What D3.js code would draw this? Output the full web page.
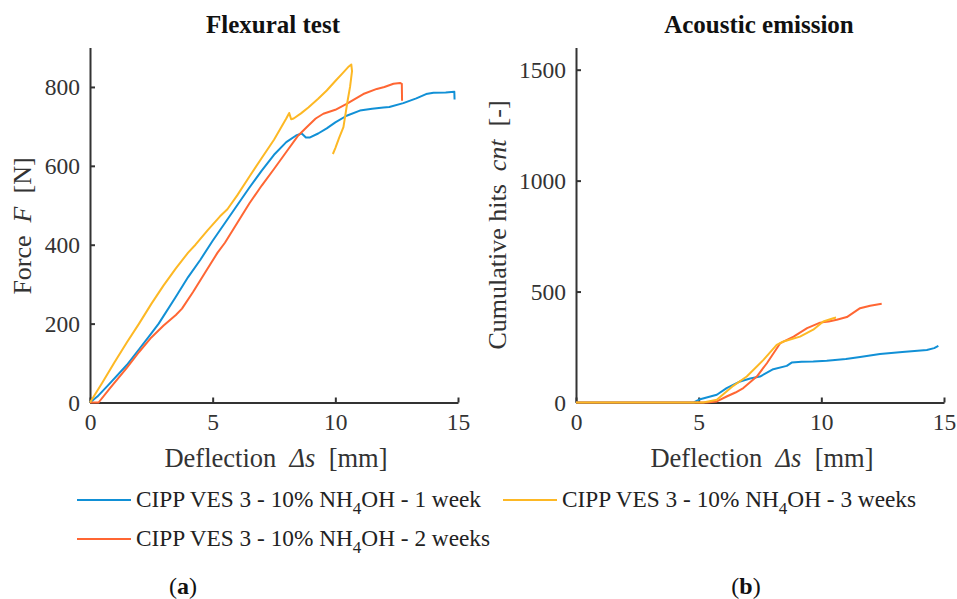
<!DOCTYPE html>
<html><head><meta charset="utf-8">
<script src="https://cdn.jsdelivr.net/npm/d3@7"></script>
<style>
body{margin:0;background:#fff;}
svg text{font-family:"Liberation Serif","Times New Roman","DejaVu Serif",serif;}
</style></head>
<body><svg id="c" width="957" height="599"></svg>
<script>
// ---- data ----
const seriesNames = ["CIPP VES 3 - 10% NH4OH - 1 week","CIPP VES 3 - 10% NH4OH - 2 weeks","CIPP VES 3 - 10% NH4OH - 3 weeks"];
const seriesColors = ["#1190d6","#ff6633","#fdb824"];
const xTicks = [0,5,10,15];
const forceTicks = [0,200,400,600,800];
const hitsTicks = [0,500,1000,1500];

// Flexural test: [deflection mm, force N]
const force1Week = [[0,0],[0.3,15],[0.8,48],[1.5,95],[2,135],[2.5,175],[2.8,200],[3.5,268],[4,318],[4.5,362],[5,410],[5.5,455],[6,500],[6.5,545],[7,588],[7.5,628],[8,660],[8.4,677],[8.63,682],[8.8,672],[8.97,672],[9.3,682],[9.65,695],[10,710],[10.46,727],[11,740],[11.5,745],[11.96,748],[12.2,749],[12.77,759],[13.3,771],[13.7,782],[14,785],[14.5,786],[14.85,788],[14.86,768]];
const force2Weeks = [[0,0],[0.35,0],[0.8,35],[1.5,88],[2,128],[2.5,165],[3,195],[3.5,222],[3.75,238],[4.2,280],[4.7,330],[5.2,380],[5.5,405],[6,455],[6.5,505],[7,550],[7.5,592],[8,635],[8.49,677],[8.83,698],[9.2,720],[9.51,732],[10,742],[10.46,757],[11,777],[11.14,782],[11.69,795],[12,800],[12.37,808],[12.64,810],[12.71,808],[12.72,765]];
const force3Weeks = [[0,0],[0.5,50],[1,102],[1.5,152],[2,200],[2.5,250],[3,297],[3.5,340],[4,380],[4.3,400],[4.8,437],[5.3,472],[5.6,490],[6,525],[6.5,573],[7,620],[7.5,666],[8,720],[8.12,734],[8.2,718],[8.3,720],[8.6,733],[8.9,748],[9.3,770],[9.65,791],[10,815],[10.3,835],[10.55,852],[10.65,857],[10.68,840],[10.6,800],[10.5,765],[10.33,698],[10.15,670],[10,645],[9.9,630]];

// Acoustic emission: [deflection mm, cumulative hits]
const hits1Week = [[0,0],[4.8,0],[5.06,15],[5.4,25],[5.74,35],[6.14,65],[6.69,95],[7.1,108],[7.5,117],[8.04,150],[8.59,165],[8.79,180],[9.2,184],[9.67,185],[10.22,188],[11,196],[11.58,205],[12.39,219],[13.3,228],[14.3,237],[14.6,245],[14.77,255]];
const hits2Weeks = [[0,0],[5.33,0],[5.74,5],[6.14,27],[6.5,45],[6.82,65],[7.37,117],[7.78,177],[8.33,268],[8.87,297],[9.42,335],[9.95,360],[10.3,365],[10.63,373],[11.04,385],[11.58,425],[11.99,436],[12.46,445]];
const hits3Weeks = [[0,0],[5.19,0],[5.74,12],[6.41,75],[6.96,117],[7.64,192],[8.18,260],[8.46,275],[9.13,297],[9.67,328],[10.08,365],[10.49,380],[10.6,383]];

const FONT = "Liberation Serif, Times New Roman, DejaVu Serif, serif";
const svg = d3.select("#c");
const axisColor = "#333";

function panel(opts){
  const g = svg.append("g");
  const x = d3.scaleLinear().domain([0,15]).range([opts.x0, opts.x0+368]);
  const y = d3.scaleLinear().domain([0,opts.ymax]).range([402.5, 47.5]);
  const gx = g.append("g").attr("transform",`translate(0,${y(0)})`)
    .call(d3.axisBottom(x).tickValues(xTicks).tickFormat(d3.format("d")).tickSizeInner(-5).tickSizeOuter(0).tickPadding(11));
  const gy = g.append("g").attr("transform",`translate(${x(0)},0)`)
    .call(d3.axisLeft(y).tickValues(opts.yTicks).tickFormat(d3.format("d")).tickSizeInner(-5).tickSizeOuter(0).tickPadding(10));
  [gx,gy].forEach(a=>{
    a.attr("font-family",FONT).attr("font-size",23.5);
    a.select(".domain").attr("stroke",axisColor).attr("stroke-width",2);
    a.selectAll(".tick line").attr("stroke",axisColor).attr("stroke-width",2);
    a.selectAll(".tick text").attr("fill","#333");
  });
  gx.selectAll(".tick text").attr("dy","0.72em");
  const line = d3.line().x(d=>x(d[0])).y(d=>y(d[1]));
  opts.data.forEach((d,i)=>{
    g.append("path").datum(d).attr("d",line).attr("fill","none")
      .attr("stroke",seriesColors[i]).attr("stroke-width",2).attr("stroke-linejoin","round");
  });
  // title
  g.append("text").attr("x",opts.titleX).attr("y",33).attr("text-anchor","middle")
    .attr("font-family",FONT).attr("font-weight","bold").attr("font-size",25).attr("fill","#111").text(opts.title);
  // x label
  const xl = g.append("text").attr("x",x(7.5)+2).attr("y",467).attr("text-anchor","middle")
    .attr("font-family",FONT).attr("font-size",26.5).attr("fill","#333").attr("xml:space","preserve");
  xl.append("tspan").text("Deflection  ");
  xl.append("tspan").attr("font-style","italic").text("Δs");
  xl.append("tspan").text("  [mm]");
  // y label
  const yl = g.append("text").attr("transform",`translate(${opts.ylx},${opts.yly}) rotate(-90)`)
    .attr("text-anchor","middle").attr("font-family",FONT).attr("font-size",26).attr("fill","#333").attr("xml:space","preserve");
  yl.append("tspan").text(opts.ylab[0]);
  yl.append("tspan").attr("font-style","italic").text(opts.ylab[1]);
  yl.append("tspan").text(opts.ylab[2]);
}

panel({x0:90, ymax:900, yTicks:forceTicks, data:[force1Week,force2Weeks,force3Weeks],
  title:"Flexural test", titleX:273, ylx:31, yly:226, ylab:["Force  ","F","  [N]"]});
panel({x0:576, ymax:1600, yTicks:hitsTicks, data:[hits1Week,hits2Weeks,hits3Weeks],
  title:"Acoustic emission", titleX:759, ylx:506, yly:225, ylab:["Cumulative hits  ","cnt","  [-]"]});

// legend
const legendPos = [[77,500],[77,539],[503,500]];
seriesNames.forEach((name,i)=>{
  const [lx,ly] = legendPos[i];
  svg.append("line").attr("x1",lx).attr("x2",lx+54).attr("y1",ly).attr("y2",ly)
    .attr("stroke",seriesColors[i]).attr("stroke-width",2);
  const t = svg.append("text").attr("x",lx+59).attr("y",ly+7).attr("font-family",FONT).attr("font-size",23.3).attr("fill","#222");
  const parts = name.split("NH4OH");
  t.append("tspan").text(parts[0]+"NH");
  t.append("tspan").attr("dy",7).attr("font-size",17).text("4");
  t.append("tspan").attr("dy",-7).text("OH"+parts[1]);
});

// captions
[["a",183],["b",746]].forEach(([c,cx])=>{
  const t = svg.append("text").attr("x",cx).attr("y",594).attr("text-anchor","middle")
    .attr("font-family",FONT).attr("font-size",24).attr("fill","#111");
  t.append("tspan").text("(");
  t.append("tspan").attr("font-weight","bold").text(c);
  t.append("tspan").text(")");
});
</script></body></html>
